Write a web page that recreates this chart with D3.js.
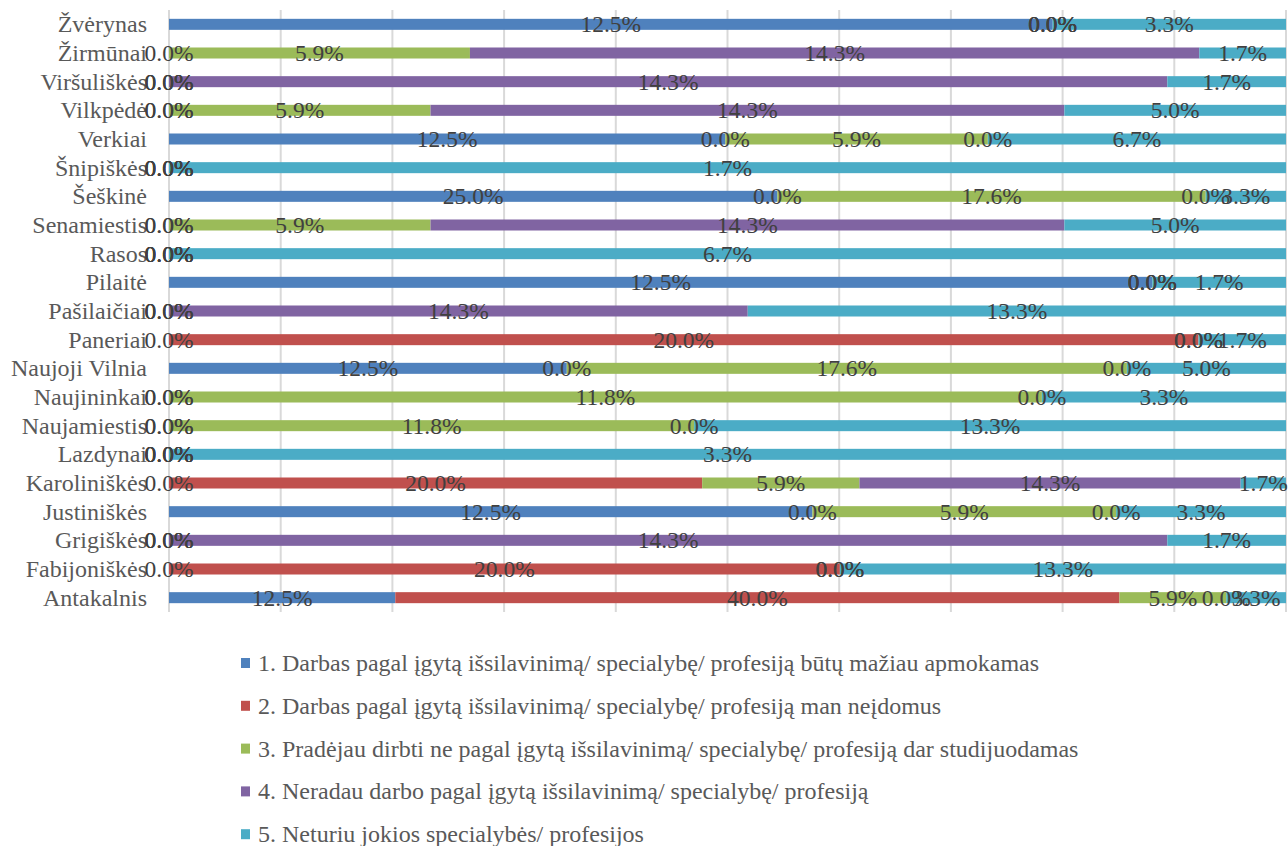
<!DOCTYPE html>
<html>
<head>
<meta charset="utf-8">
<script src="https://cdn.jsdelivr.net/npm/d3@7"></script>
<style>
  html, body { margin: 0; padding: 0; background: #fff; }
  svg { display: block; }
</style>
</head>
<body>
<svg id="chart" width="1288" height="846" font-family="'Liberation Serif', 'Times New Roman', serif"></svg>
<script>
// ---------- DATA ----------
const categories = ["Žvėrynas","Žirmūnai","Viršuliškės","Vilkpėdė","Verkiai","Šnipiškės","Šeškinė","Senamiestis","Rasos","Pilaitė","Pašilaičiai","Paneriai","Naujoji Vilnia","Naujininkai","Naujamiestis","Lazdynai","Karoliniškės","Justiniškės","Grigiškės","Fabijoniškės","Antakalnis"];

const seriesNames = [
  "1. Darbas pagal įgytą išsilavinimą/ specialybę/ profesiją būtų mažiau apmokamas",
  "2. Darbas pagal įgytą išsilavinimą/ specialybę/ profesiją man neįdomus",
  "3. Pradėjau dirbti ne pagal įgytą išsilavinimą/ specialybę/ profesiją dar studijuodamas",
  "4. Neradau darbo pagal įgytą išsilavinimą/ specialybę/ profesiją",
  "5. Neturiu jokios specialybės/ profesijos"
];

const s1 = [12.5, 0, 0, 0, 12.5, 0, 25.0, 0, 0, 12.5, 0, 0, 12.5, 0, 0, 0, 0, 12.5, 0, 0, 12.5];
const s2 = [0, null, 0, 0, 0, 0, 0, 0, 0, 0, 0, 20.0, 0, 0, 0, 0, 20.0, 0, 0, 20.0, 40.0];
const s3 = [0, 5.9, 0, 5.9, 5.9, 0, 17.6, 5.9, 0, 0, 0, 0, 17.6, 11.8, 11.8, 0, 5.9, 5.9, 0, 0, 5.9];
const s4 = [0, 14.3, 14.3, 14.3, 0, 0, 0, 14.3, 0, 0, 14.3, 0, 0, 0, 0, 0, 14.3, 0, 14.3, 0, 0];
const s5 = [3.3, 1.7, 1.7, 5.0, 6.7, 1.7, 3.3, 5.0, 6.7, 1.7, 13.3, 1.7, 5.0, 3.3, 13.3, 3.3, 1.7, 3.3, 1.7, 13.3, 3.3];

const colors = ["#4F81BD", "#C0504D", "#9BBB59", "#8064A2", "#4BACC6"];
const gridTicks = [0, 0.1, 0.2, 0.3, 0.4, 0.5, 0.6, 0.7, 0.8, 0.9, 1.0];

// ---------- BUILD ----------
const FONT = "'Liberation Serif', 'Times New Roman', serif";
const allSeries = [s1, s2, s3, s4, s5];
const segments = [];
categories.forEach((cat, i) => {
  const total = d3.sum(allSeries, s => s[i] == null ? 0 : s[i]);
  let acc = 0;
  allSeries.forEach((s, k) => {
    const v = s[i];
    if (v == null) return;
    const x0 = acc / total, x1 = (acc + v) / total;
    acc += v;
    segments.push({cat, k, v, x0, x1});
  });
});

const svg = d3.select("#chart");
const x = d3.scaleLinear().domain([0, 1]).range([169, 1286]);
const y = d3.scaleBand().domain(categories).range([10, 612]).paddingInner(0.616).paddingOuter(0.308);

// gridlines
svg.append("g").selectAll("line").data(gridTicks).join("line")
  .attr("x1", d => x(d)).attr("x2", d => x(d))
  .attr("y1", 10).attr("y2", 612)
  .attr("stroke", "#D9D9D9").attr("stroke-width", 2);

// bars
svg.append("g").selectAll("rect").data(segments.filter(d => d.v > 0)).join("rect")
  .attr("x", d => x(d.x0))
  .attr("width", d => x(d.x1) - x(d.x0))
  .attr("y", d => y(d.cat))
  .attr("height", y.bandwidth())
  .attr("fill", d => colors[d.k]);

// category labels
svg.append("g").selectAll("text").data(categories).join("text")
  .attr("x", 147)
  .attr("y", d => y(d) + y.bandwidth() / 2 + 8)
  .attr("text-anchor", "end")
  .attr("font-family", FONT)
  .attr("font-size", 24)
  .attr("fill", "#595959")
  .text(d => d);

// data labels
svg.append("g").selectAll("text").data(segments).join("text")
  .attr("x", d => x((d.x0 + d.x1) / 2))
  .attr("y", d => y(d.cat) + y.bandwidth() / 2 + 8)
  .attr("text-anchor", "middle")
  .attr("font-family", FONT)
  .attr("font-size", 23.5)
  .attr("fill", "#404040")
  .text(d => d.v.toFixed(1) + "%");

// legend
const legend = svg.append("g").selectAll("g").data(seriesNames).join("g")
  .attr("transform", (d, i) => `translate(0, ${662 + i * 42.8})`);
legend.append("rect")
  .attr("x", 241).attr("y", -4).attr("width", 9).attr("height", 10)
  .attr("fill", (d, i) => colors[i]);
legend.append("text")
  .attr("x", 258).attr("y", 9)
  .attr("font-family", FONT)
  .attr("font-size", 24)
  .attr("fill", "#595959")
  .text(d => d);
</script>
</body>
</html>
